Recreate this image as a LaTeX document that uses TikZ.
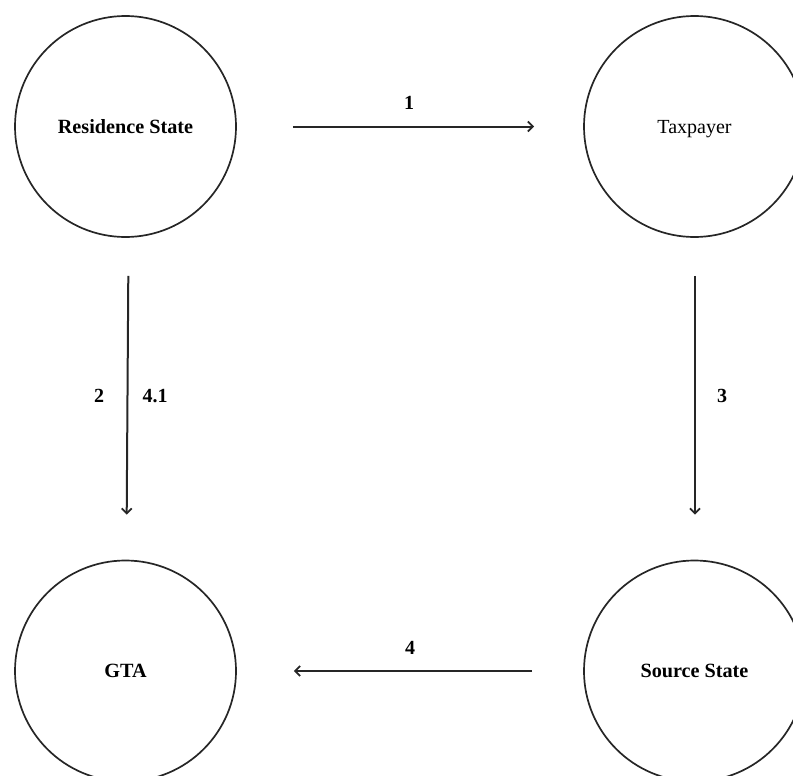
\documentclass[tikz,border=0pt]{standalone}
\usepackage{fontspec}
\setmainfont{Liberation Serif}
\usetikzlibrary{arrows.meta}
\begin{document}
\begin{tikzpicture}[x=1pt,y=-1pt,
  party/.style={circle,draw=black!85,line width=1.7pt,minimum size=221pt,inner sep=0pt,text height=13.5pt,text depth=0pt,font=\fontsize{20.2}{23}\selectfont\bfseries},
  flow/.style={draw=black!85,line width=2pt,-{Straight Barb[length=5pt,width=10pt,line width=1.8pt]}},
  num/.style={font=\fontsize{20}{23}\selectfont\bfseries,inner sep=0pt}]
\useasboundingbox (0,0) rectangle (793,776);
\node[party] (rs) at (125.5,126.5) {Residence State};
\node[party,font=\fontsize{20}{23}\selectfont] (tp) at (694.5,126.5) {Taxpayer};
\node[party] (gta) at (125.5,671) {GTA};
\node[party] (ss) at (694.5,671) {Source State};
% connectors
\draw[flow] ([xshift=56pt]rs.east) -- ([xshift=-49pt]tp.west);
\draw[flow] ([xshift=2.8pt,yshift=-38pt]rs.south) -- ([xshift=1.2pt,yshift=45pt]gta.north);
\draw[flow] ([xshift=0.5pt,yshift=-38pt]tp.south) -- ([xshift=0.5pt,yshift=45pt]ss.north);
\draw[flow] ([xshift=-51pt]ss.west) -- ([xshift=57pt]gta.east);
% labels
\node[num] (l1) at (409,103) {1};
\node[num] (l2) at (99,396) {2};
\node[num] (l41) at (155,396) {4.1};
\node[num] (l3) at (722,396) {3};
\node[num] (l4) at (410,648) {4};
\end{tikzpicture}
\end{document}
